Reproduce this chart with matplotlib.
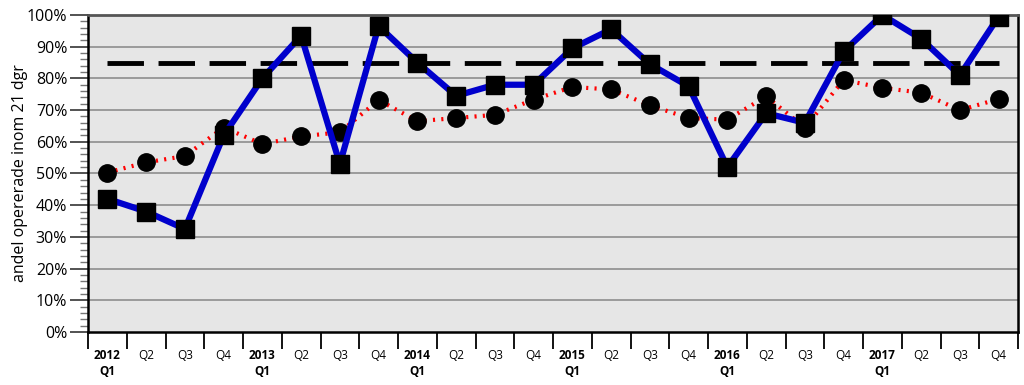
import matplotlib
matplotlib.use("Agg")
import matplotlib.pyplot as plt
from matplotlib.ticker import FixedLocator, MultipleLocator, FuncFormatter

plt.rcParams['font.family'] = ['Open Sans', 'DejaVu Sans']

years = ["2012", "2013", "2014", "2015", "2016", "2017"]
quarters = ["Q1", "Q2", "Q3", "Q4"]
tick_labels = []
for y in years:
    for q in quarters:
        tick_labels.append(f"{y}\n{q}" if q == "Q1" else q)

blue_values = [42, 38, 32.5, 62, 80, 93.5, 53, 96.5, 85, 74.5, 78, 78,
               89.5, 95.5, 84.5, 77.5, 52, 69, 66, 88.5, 100, 92.5, 81, 99.5]
red_values = [50.3, 53.5, 55.5, 64.5, 59.3, 61.7, 63, 73.2, 66.5, 67.5, 68.5, 73.3,
              77.3, 76.5, 71.5, 67.5, 67, 74.3, 64.5, 79.5, 77, 75.5, 70, 73.5]
target_value = 85

n = len(tick_labels)
x = list(range(n))

fig = plt.figure(figsize=(10.24, 3.85), dpi=100)
ax = fig.add_axes([88/1024, 53/385, 930/1024, 317/385])
ax.set_facecolor('#e6e6e6')

for v in range(10, 101, 10):
    ax.axhline(v, color='#9a9a9a', lw=1.4, zorder=1)

ax.plot([x[0], x[-1]], [target_value, target_value], color='black', lw=3.5,
        dashes=(7.5, 3), zorder=2)
ax.plot(x, red_values, color='#ff0000', lw=3, linestyle=(0, (0.5, 1.5)),
        marker='o', markersize=12.5, markerfacecolor='black', markeredgecolor='black',
        zorder=3)
ax.plot(x, blue_values, color='#0000cc', lw=4.5, marker='s', markersize=12.5,
        markerfacecolor='black', markeredgecolor='black', zorder=4)

ax.set_xlim(-0.5, n - 0.5)
ax.set_ylim(0, 100)

ax.yaxis.set_major_locator(MultipleLocator(10))
ax.yaxis.set_minor_locator(MultipleLocator(2))
ax.yaxis.set_major_formatter(FuncFormatter(lambda v, p: f"{int(v)}%"))
ax.tick_params(axis='y', which='major', length=13, width=1.3, color='#444444',
               labelsize=11.5, pad=2)
ax.tick_params(axis='y', which='minor', length=6, width=1, color='#777777')

ax.xaxis.set_major_locator(FixedLocator([i - 0.5 for i in range(n + 1)]))
ax.xaxis.set_minor_locator(FixedLocator(x))
ax.xaxis.set_major_formatter(FuncFormatter(lambda v, p: ""))
ax.set_xticklabels(tick_labels, minor=True)
ax.tick_params(axis='x', which='major', length=12, width=1.3, color='black')
ax.tick_params(axis='x', which='minor', length=0, labelsize=8.5, pad=12)
for lab, t in zip(ax.xaxis.get_minorticklabels(), tick_labels):
    lab.set_va('top')
    lab.set_linespacing(1.3)
    if "\n" in t:
        lab.set_fontweight('bold')

ax.set_ylabel("andel opererade inom 21 dgr", fontsize=11.5, labelpad=-1)

for s in ['left', 'bottom', 'right']:
    ax.spines[s].set_color('black')
    ax.spines[s].set_linewidth(1.8)
ax.spines['top'].set_color('#555555')
ax.spines['top'].set_linewidth(2)

fig.savefig("out.png", dpi=100)
